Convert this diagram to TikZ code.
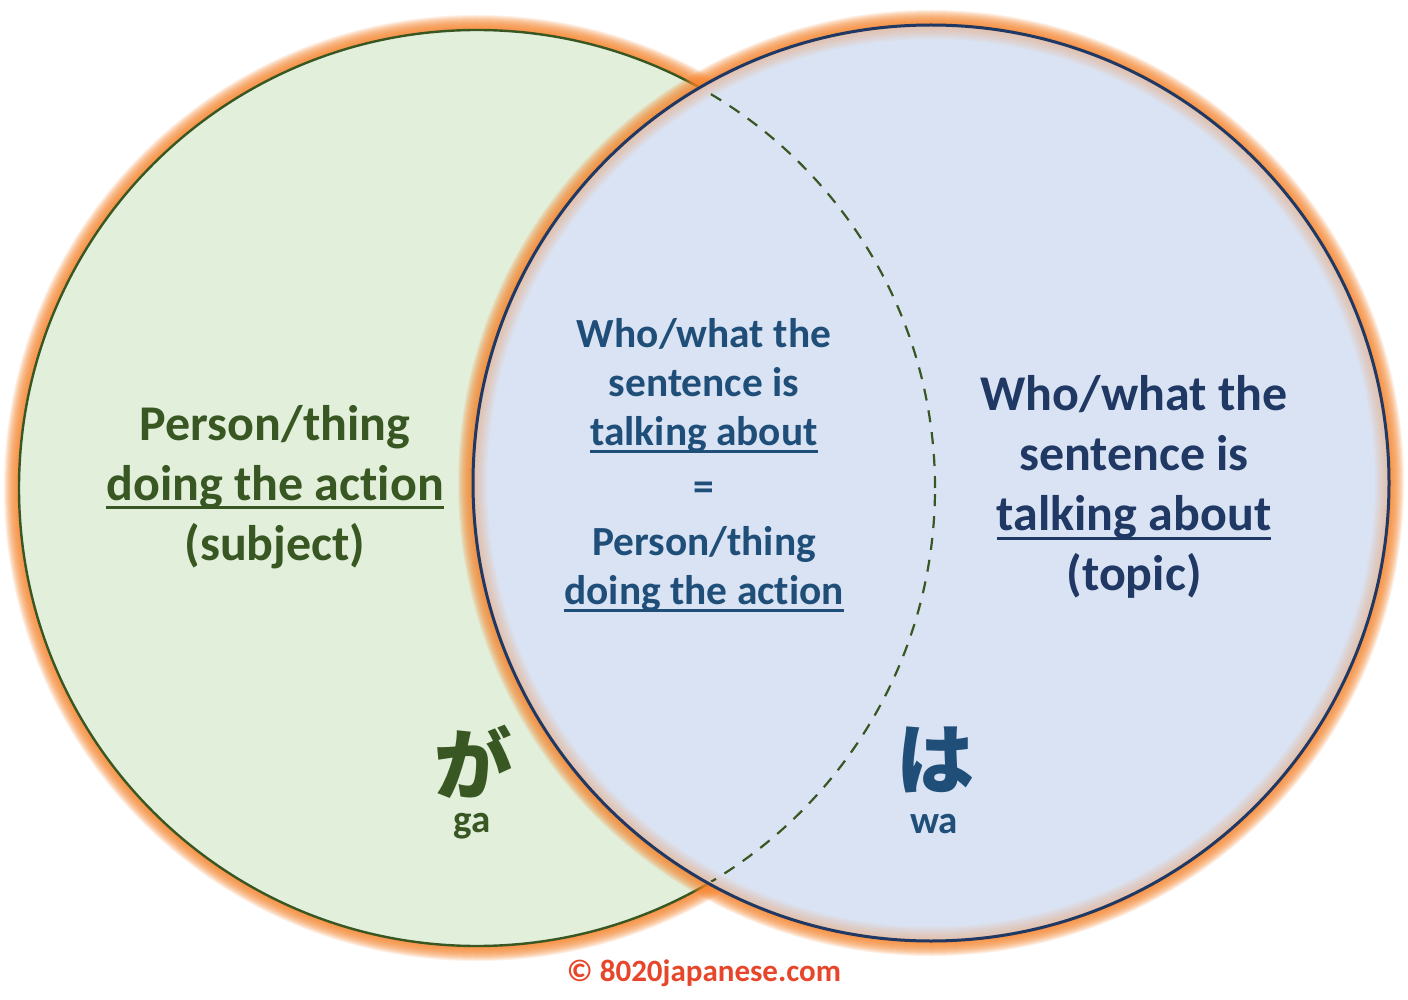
\documentclass[tikz,border=0pt]{standalone}
\usepackage{fontspec}
\setmainfont{Carlito}[Ligatures=NoCommon]
\newfontfamily\jpfont{Noto Sans CJK JP}

\definecolor{gagreen}{HTML}{385723}
\definecolor{gafill}{HTML}{E2EFDA}
\definecolor{wanavy}{HTML}{203864}
\definecolor{wablue}{HTML}{1F4E79}
\definecolor{wafill}{HTML}{DAE3F3}
\definecolor{glowc}{HTML}{F7862E}
\definecolor{copyc}{HTML}{E8462A}

% underline for the key words
\newcommand\ulin[1]{\leavevmode\setbox0\hbox{#1}\rlap{\rule[-0.18em]{\wd0}{0.06em}}\box0}

\tikzset{
  glow/.style={glowc, opacity=0.12},
  txt/.style={inner sep=0pt, align=center, font=\bfseries},
  bigtxt/.style={txt, font=\bfseries\fontsize{25}{30}\selectfont},
  midtxt/.style={txt, font=\bfseries\fontsize{20.7}{24.5}\selectfont},
  kana/.style={inner sep=0pt, font=\jpfont\bfseries\fontsize{39}{39}\selectfont},
  roma/.style={inner sep=0pt, font=\bfseries\fontsize{19.5}{20}\selectfont}
}

\begin{document}
\begin{tikzpicture}[x=0.5pt,y=-0.5pt]
    \def\rad{229pt}
    \useasboundingbox[fill=white] (0,0) rectangle (1408,1000);

    \coordinate (cga) at (477,488);
    \coordinate (cwa) at (931,483);

    % cerchio ga
    \foreach \w in {1,...,15}
        \draw[glow, line width=\w pt] (cga) circle[radius=\rad];
    \fill[gafill] (cga) circle[radius=\rad];
    \draw[gagreen, line width=1.2pt] (cga) circle[radius=\rad];

    % cerchio wa
    \foreach \w in {1,...,15}
        \draw[glow, line width=\w pt] (cwa) circle[radius=\rad];
    \fill[wafill] (cwa) circle[radius=\rad];
    \begin{scope}
        \clip (cwa) circle[radius=\rad];
        \foreach \w in {2,4,...,14}
            \draw[glow, opacity=0.06, line width=\w pt] (cwa) circle[radius=\rad];
    \end{scope}
    \draw[wanavy, line width=1.5pt] (cwa) circle[radius=\rad];

    % arco tratteggiato
    \begin{scope}
        \clip (cwa) circle[radius=\rad-1.5pt];
        \draw[gagreen, line width=1.1pt, dash pattern=on 6pt off 5pt] (cga) circle[radius=\rad];
    \end{scope}

    % testi
    \node[bigtxt, gagreen] (subj) at (275,487) {Person/thing\\\ulin{doing the action}\\(subject)};
    \node[midtxt, wablue] (both) at (704,465) {Who/what the\\sentence is\\\ulin{talking about}\\[3pt]=\\[3pt]Person/thing\\\ulin{doing the action}};
    \node[bigtxt, wanavy] (topic) at (1134,487) {Who/what the\\sentence is\\\ulin{talking about}\\(topic)};

    % particelle
    \node[kana, gagreen] (gak) at (473,762) {が};
    \node[roma, gagreen] (gar) at (472,826) {ga};
    \node[kana, wablue] (wak) at (935,760) {は};
    \node[roma, wablue] (war) at (934,824) {wa};

    % copyright
    \node[inner sep=0pt, font=\bfseries\fontsize{15.5}{16}\selectfont, copyc] (copy) at (704,973) {© 8020japanese.com};
\end{tikzpicture}
\end{document}
